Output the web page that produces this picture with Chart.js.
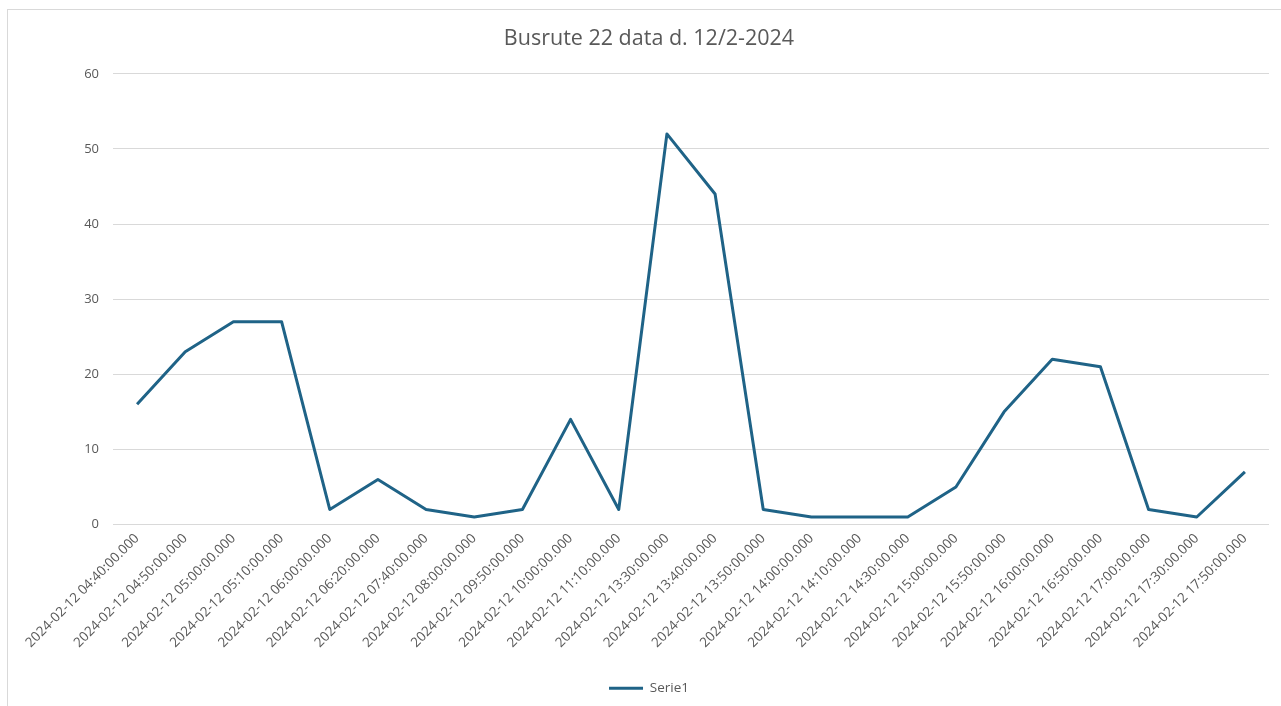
<!DOCTYPE html>
<html>
<head>
<meta charset="utf-8">
<script src="https://cdn.jsdelivr.net/npm/chart.js@4/dist/chart.umd.min.js"></script>
<style>
  html, body { margin: 0; padding: 0; background: #fff; }
  #ramme { position: absolute; left: 7px; top: 9px; width: 1274px; height: 697px;
           border-left: 1px solid #d9d9d9; border-top: 1px solid #d9d9d9; }
  #wrap { position: absolute; left: 0; top: 0; width: 1281px; height: 706px; }
</style>
</head>
<body>
<div id="ramme"></div>
<div id="wrap"><canvas id="graf" width="1281" height="706"></canvas></div>
<script>
// tidspunkter for busrute 22, 12/2-2024
const tider = [
    "2024-02-12 04:40:00.000", "2024-02-12 04:50:00.000", "2024-02-12 05:00:00.000",
    "2024-02-12 05:10:00.000", "2024-02-12 06:00:00.000", "2024-02-12 06:20:00.000",
    "2024-02-12 07:40:00.000", "2024-02-12 08:00:00.000", "2024-02-12 09:50:00.000",
    "2024-02-12 10:00:00.000", "2024-02-12 11:10:00.000", "2024-02-12 13:30:00.000",
    "2024-02-12 13:40:00.000", "2024-02-12 13:50:00.000", "2024-02-12 14:00:00.000",
    "2024-02-12 14:10:00.000", "2024-02-12 14:30:00.000", "2024-02-12 15:00:00.000",
    "2024-02-12 15:50:00.000", "2024-02-12 16:00:00.000", "2024-02-12 16:50:00.000",
    "2024-02-12 17:00:00.000", "2024-02-12 17:30:00.000", "2024-02-12 17:50:00.000"
];
const serie1 = [16, 23, 27, 27, 2, 6, 2, 1, 2, 14, 2, 52, 44, 2, 1, 1, 1, 5, 15, 22, 21, 2, 1, 7];
const yMin = 0, yMax = 60, yStep = 10;

const tekstFarve = "#595959";
const linjeFarve = "#1f6387";
const skrift = "'Open Sans', 'Noto Sans', sans-serif";

new Chart(document.getElementById("graf"), {
    type: "line",
    data: {
        labels: tider,
        datasets: [{
            label: "Serie1",
            data: serie1,
            borderColor: linjeFarve,
            backgroundColor: linjeFarve,
            borderWidth: 3,
            pointRadius: 0,
            pointHoverRadius: 0,
            tension: 0,
            borderJoinStyle: "round"
        }]
    },
    options: {
        responsive: false,
        animation: false,
        // titel og forklaring centreres lidt til højre som i Excel
        layout: { padding: { left: 29, right: 12, top: 0, bottom: 1 } },
        plugins: {
            title: {
                display: true,
                text: "Busrute 22 data d. 12/2-2024",
                color: tekstFarve,
                font: { family: skrift, size: 21.5, weight: "normal" },
                padding: { top: 26, bottom: 22 }
            },
            legend: {
                position: "bottom",
                labels: {
                    color: tekstFarve,
                    font: { family: skrift, size: 13.5 },
                    usePointStyle: true,
                    pointStyle: "line",
                    pointStyleWidth: 34,
                    boxHeight: 12,
                    padding: 4
                }
            },
            tooltip: { enabled: false }
        },
        scales: {
            x: {
                offset: true,
                grid: { display: false, drawTicks: false },
                border: { display: false },
                ticks: {
                    color: tekstFarve,
                    font: { family: skrift, size: 13.5 },
                    minRotation: 45,
                    maxRotation: 45,
                    autoSkip: false,
                    padding: 6
                },
                afterFit: function (s) { s.height = 153; }
            },
            y: {
                min: yMin,
                max: yMax,
                grid: { color: "#d9d9d9", drawTicks: false, lineWidth: 1 },
                border: { display: false },
                ticks: {
                    stepSize: yStep,
                    color: tekstFarve,
                    font: { family: skrift, size: 13 },
                    padding: 14
                },
                afterFit: function (s) { s.width = 84; }
            }
        }
    }
});
</script>
</body>
</html>
